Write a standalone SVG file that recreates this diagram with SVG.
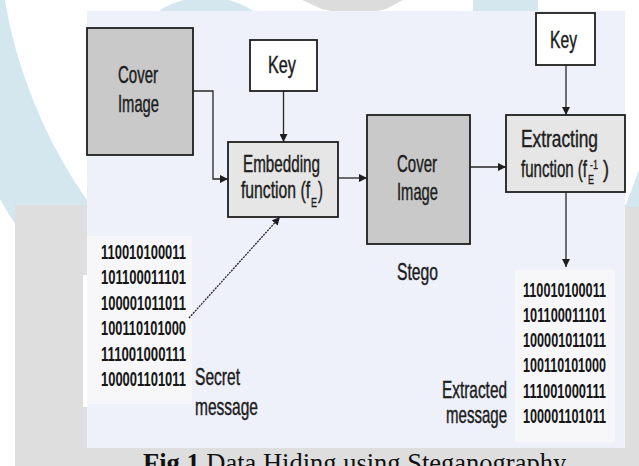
<svg xmlns="http://www.w3.org/2000/svg" width="639" height="466" viewBox="0 0 639 466">
<style>
.lbl{font-family:"Liberation Sans",Arial,sans-serif;font-size:24px;fill:#1c1c1c;stroke:#1c1c1c;stroke-width:0.45;}
.sm{font-size:13px;stroke-width:0.3;}
.bin{font-family:"Liberation Sans",Arial,sans-serif;font-size:20.5px;font-weight:bold;fill:#151515;}
.cover{fill:#c9c9c9;stroke:#1e1e1e;stroke-width:1.8;}
.func{fill:#e6e6e6;stroke:#1e1e1e;stroke-width:1.8;}
.key{fill:#ffffff;stroke:#1e1e1e;stroke-width:1.8;}
.conn{fill:none;stroke:#262626;stroke-width:1.3;}
.cap{font-family:"Liberation Serif","Times New Roman",serif;font-size:26.5px;fill:#111;}
</style>
<defs>
<marker id="ah" markerWidth="8" markerHeight="8" refX="8" refY="4" orient="auto" markerUnits="userSpaceOnUse">
<path d="M0,0 L8,4 L0,8 Z" fill="#1e1e1e"/>
</marker>
</defs>
<!-- background watermark -->
<rect x="0" y="0" width="639" height="466" fill="#ffffff"/>
<circle cx="489" cy="-82" r="527.5" fill="none" stroke="#d4e7ef" stroke-width="73"/>
<circle cx="206" cy="84" r="87" fill="#d4e7ef"/>
<path d="M302,0 L403,0 L386,9 Q355,17 322,9 Z" fill="#dcdcdc"/>
<rect x="473" y="0" width="65" height="20" fill="#d4e7ef"/>
<rect x="15" y="205" width="624" height="261" fill="#dedede"/>
<polygon points="625,207 639,170 639,207" fill="#d4e7ef"/>
<!-- panel -->
<rect x="87" y="11" width="538" height="437" fill="#eef0fa"/>
<rect x="83" y="275" width="5" height="132" fill="#ffffff"/>
<rect x="87" y="236" width="105" height="168" fill="#f7f7f9"/>
<rect x="515" y="270" width="100" height="172" fill="#f7f7f9"/>
<!-- connectors -->
<g id="connectors">
<polyline class="conn" points="193,91 213,91 213,179 228,179" marker-end="url(#ah)"/>
<line class="conn" x1="283.5" y1="91" x2="283.5" y2="142" marker-end="url(#ah)"/>
<line class="conn" x1="189" y1="318" x2="280" y2="217" stroke-dasharray="2 1" marker-end="url(#ah)"/>
<line class="conn" x1="338" y1="178" x2="367" y2="178" marker-end="url(#ah)"/>
<line class="conn" x1="470" y1="167" x2="506" y2="167" marker-end="url(#ah)"/>
<line class="conn" x1="566" y1="65" x2="566" y2="115" marker-end="url(#ah)"/>
<line class="conn" x1="566" y1="192" x2="566" y2="267" marker-end="url(#ah)"/>
</g>
<!-- nodes -->
<g id="cover-image">
<rect class="cover" x="87" y="28" width="106" height="127"/>
<text class="lbl" x="118" y="83" textLength="40" lengthAdjust="spacingAndGlyphs">Cover</text>
<text class="lbl" x="118" y="112" textLength="41" lengthAdjust="spacingAndGlyphs">Image</text>
</g>
<g id="key1">
<rect class="key" x="250" y="40" width="67" height="51"/>
<text class="lbl" x="268" y="73" textLength="28" lengthAdjust="spacingAndGlyphs">Key</text>
</g>
<g id="embedding">
<rect class="func" x="228" y="142" width="110" height="75"/>
<text class="lbl" x="243" y="172" textLength="77" lengthAdjust="spacingAndGlyphs">Embedding</text>
<text class="lbl" x="241" y="198" textLength="69" lengthAdjust="spacingAndGlyphs">function (f</text>
<text class="lbl sm" x="311" y="207" textLength="6" lengthAdjust="spacingAndGlyphs">E</text>
<text class="lbl" x="318" y="198" textLength="5" lengthAdjust="spacingAndGlyphs">)</text>
</g>
<g id="stego-image">
<rect class="cover" x="367" y="115" width="103" height="129"/>
<text class="lbl" x="397" y="172" textLength="40" lengthAdjust="spacingAndGlyphs">Cover</text>
<text class="lbl" x="397" y="200" textLength="41" lengthAdjust="spacingAndGlyphs">Image</text>
</g>
<g id="stego-label">
<text class="lbl" x="397" y="280" textLength="41" lengthAdjust="spacingAndGlyphs">Stego</text>
</g>
<g id="key2">
<rect class="key" x="536" y="13" width="59" height="52"/>
<text class="lbl" x="550" y="48" textLength="27" lengthAdjust="spacingAndGlyphs">Key</text>
</g>
<g id="extracting">
<rect class="func" x="506" y="115" width="119" height="77"/>
<text class="lbl" x="521" y="147" textLength="77" lengthAdjust="spacingAndGlyphs">Extracting</text>
<text class="lbl" x="521" y="177" textLength="66" lengthAdjust="spacingAndGlyphs">function (f</text>
<text class="lbl sm" x="588" y="184" textLength="6" lengthAdjust="spacingAndGlyphs">E</text>
<text class="lbl sm" x="590" y="169" textLength="8" lengthAdjust="spacingAndGlyphs">-1</text>
<text class="lbl" x="603" y="177" textLength="6" lengthAdjust="spacingAndGlyphs">)</text>
</g>
<g id="secret-message">
<text class="bin" x="101" y="259" textLength="85" lengthAdjust="spacingAndGlyphs">110010100011</text>
<text class="bin" x="101" y="284" textLength="85" lengthAdjust="spacingAndGlyphs">101100011101</text>
<text class="bin" x="101" y="310" textLength="85" lengthAdjust="spacingAndGlyphs">100001011011</text>
<text class="bin" x="101" y="335" textLength="85" lengthAdjust="spacingAndGlyphs">100110101000</text>
<text class="bin" x="101" y="361" textLength="85" lengthAdjust="spacingAndGlyphs">111001000111</text>
<text class="bin" x="101" y="386" textLength="85" lengthAdjust="spacingAndGlyphs">100001101011</text>
<text class="lbl" x="195" y="385" textLength="45" lengthAdjust="spacingAndGlyphs">Secret</text>
<text class="lbl" x="195" y="415" textLength="63" lengthAdjust="spacingAndGlyphs">message</text>
</g>
<g id="extracted-message">
<text class="bin" x="523" y="297" textLength="83" lengthAdjust="spacingAndGlyphs">110010100011</text>
<text class="bin" x="523" y="322" textLength="83" lengthAdjust="spacingAndGlyphs">101100011101</text>
<text class="bin" x="523" y="347" textLength="83" lengthAdjust="spacingAndGlyphs">100001011011</text>
<text class="bin" x="523" y="372" textLength="83" lengthAdjust="spacingAndGlyphs">100110101000</text>
<text class="bin" x="523" y="398" textLength="83" lengthAdjust="spacingAndGlyphs">111001000111</text>
<text class="bin" x="523" y="423" textLength="83" lengthAdjust="spacingAndGlyphs">100001101011</text>
<text class="lbl" x="442" y="398" textLength="65" lengthAdjust="spacingAndGlyphs">Extracted</text>
<text class="lbl" x="446" y="423" textLength="61" lengthAdjust="spacingAndGlyphs">message</text>
</g>
<text class="cap" x="143" y="472"><tspan font-weight="bold">Fig.1</tspan> Data Hiding using Steganography</text>
</svg>
